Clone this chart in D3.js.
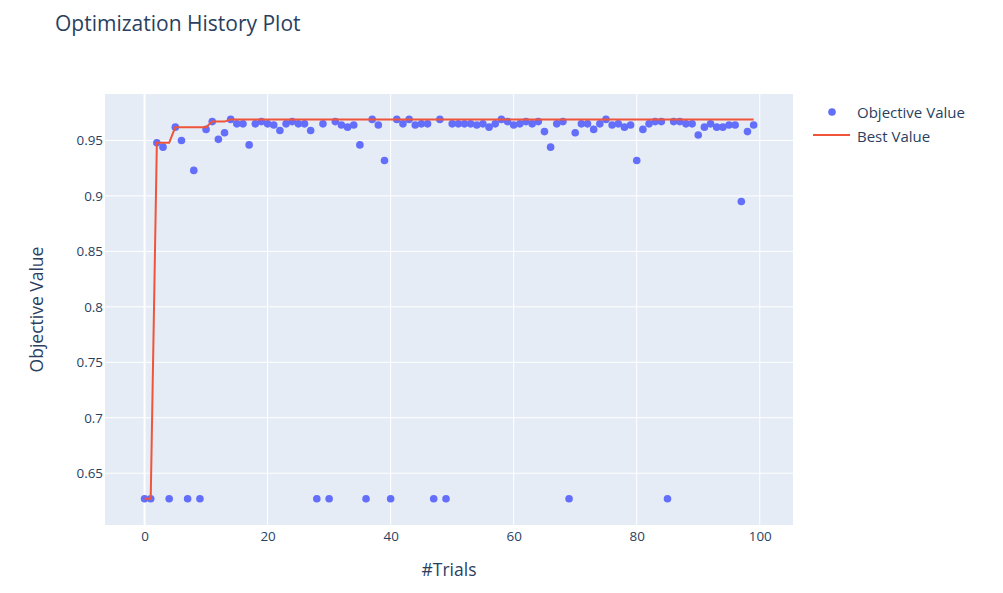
<!DOCTYPE html>
<html>
<head>
<meta charset="utf-8">
<script src="https://cdn.jsdelivr.net/npm/d3@7"></script>
<style>
  body { margin: 0; background: #fff; }
  svg { display: block; font-family: "Open Sans", sans-serif; }
</style>
</head>
<body>
<div id="chart"></div>
<script>
// objective value per trial (trial number = index)
const objectiveValues = [
  0.627, 0.627, 0.948, 0.944, 0.627, 0.962, 0.950, 0.627, 0.923, 0.627,
  0.960, 0.967, 0.951, 0.957, 0.969, 0.965, 0.965, 0.946, 0.965, 0.967,
  0.965, 0.964, 0.959, 0.965, 0.967, 0.965, 0.965, 0.959, 0.627, 0.965,
  0.627, 0.967, 0.964, 0.962, 0.964, 0.946, 0.627, 0.969, 0.964, 0.932,
  0.627, 0.969, 0.965, 0.969, 0.964, 0.965, 0.965, 0.627, 0.969, 0.627,
  0.965, 0.965, 0.965, 0.965, 0.964, 0.965, 0.962, 0.965, 0.969, 0.967,
  0.964, 0.965, 0.967, 0.965, 0.967, 0.958, 0.944, 0.965, 0.967, 0.627,
  0.957, 0.965, 0.965, 0.960, 0.965, 0.969, 0.964, 0.965, 0.962, 0.964,
  0.932, 0.960, 0.965, 0.967, 0.967, 0.627, 0.967, 0.967, 0.965, 0.965,
  0.955, 0.962, 0.965, 0.962, 0.962, 0.964, 0.964, 0.895, 0.958, 0.964
];
const xTicks = [0, 20, 40, 60, 80, 100];
const yTicks = [0.65, 0.7, 0.75, 0.8, 0.85, 0.9, 0.95];
const legendLabels = ["Objective Value", "Best Value"];

const trials = objectiveValues.map((v, i) => ({ trial: i, value: v }));
// best value so far at each trial
let best = -Infinity;
const bestValues = trials.map(d => {
  best = Math.max(best, d.value);
  return { trial: d.trial, value: best };
});

const W = 1003, H = 593;
const plot = { left: 105, right: 793, top: 94, bottom: 525 };
const textColor = "#2a3f5f";

const svg = d3.select("#chart").append("svg")
  .attr("width", W).attr("height", H);

const x = d3.scaleLinear().domain([-6.43, 105.4]).range([plot.left, plot.right]);
const y = d3.scaleLinear().domain([0.6033, 0.9919]).range([plot.bottom, plot.top]);

// title
svg.append("text")
  .attr("x", 55).attr("y", 31)
  .attr("font-size", 21)
  .attr("fill", textColor)
  .text("Optimization History Plot");

// plot background
svg.append("rect")
  .attr("x", plot.left).attr("y", plot.top)
  .attr("width", plot.right - plot.left)
  .attr("height", plot.bottom - plot.top)
  .attr("fill", "#E5ECF6");

// grid
const grid = svg.append("g");
grid.selectAll(".gx").data(xTicks).join("line")
  .attr("x1", d => x(d)).attr("x2", d => x(d))
  .attr("y1", plot.top).attr("y2", plot.bottom)
  .attr("stroke", "#fff")
  .attr("stroke-width", d => d === 0 ? 2 : 1);
grid.selectAll(".gy").data(yTicks).join("line")
  .attr("x1", plot.left).attr("x2", plot.right)
  .attr("y1", d => y(d)).attr("y2", d => y(d))
  .attr("stroke", "#fff").attr("stroke-width", 1);

// axes (labels only)
const xAxis = svg.append("g")
  .attr("transform", `translate(0,${plot.bottom})`)
  .call(d3.axisBottom(x).tickValues(xTicks).tickSize(0).tickPadding(6.5));
const yAxis = svg.append("g")
  .attr("transform", `translate(${plot.left - 2},0)`)
  .call(d3.axisLeft(y).tickValues(yTicks).tickSize(0).tickPadding(0)
    .tickFormat(d => String(+d.toFixed(2))));
[xAxis, yAxis].forEach(a => {
  a.select(".domain").remove();
  a.selectAll("text")
    .attr("font-size", 13.4)
    .attr("font-family", "Open Sans, sans-serif")
    .attr("fill", textColor);
});

// axis titles
svg.append("text")
  .attr("x", (plot.left + plot.right) / 2).attr("y", 576)
  .attr("text-anchor", "middle")
  .attr("font-size", 17.5).attr("fill", textColor)
  .text("#Trials");
svg.append("text")
  .attr("transform", `translate(43,${(plot.top + plot.bottom) / 2}) rotate(-90)`)
  .attr("text-anchor", "middle")
  .attr("font-size", 17.5).attr("fill", textColor)
  .text("Objective Value");

// points
svg.append("g").selectAll("circle").data(trials).join("circle")
  .attr("cx", d => x(d.trial))
  .attr("cy", d => y(d.value))
  .attr("r", 3.8)
  .attr("fill", "#636efa");

// best value line
svg.append("path")
  .datum(bestValues)
  .attr("fill", "none")
  .attr("stroke", "#ef553b")
  .attr("stroke-width", 2)
  .attr("d", d3.line().x(d => x(d.trial)).y(d => y(d.value)));

// legend
const legend = svg.append("g");
legend.append("circle")
  .attr("cx", 832).attr("cy", 112).attr("r", 3.8).attr("fill", "#636efa");
legend.append("line")
  .attr("x1", 813).attr("x2", 850).attr("y1", 135).attr("y2", 135)
  .attr("stroke", "#ef553b").attr("stroke-width", 2);
legend.selectAll("text").data(legendLabels).join("text")
  .attr("x", 857)
  .attr("y", (d, i) => 117.5 + i * 24)
  .attr("font-size", 15).attr("fill", textColor)
  .text(d => d);
</script>
</body>
</html>
